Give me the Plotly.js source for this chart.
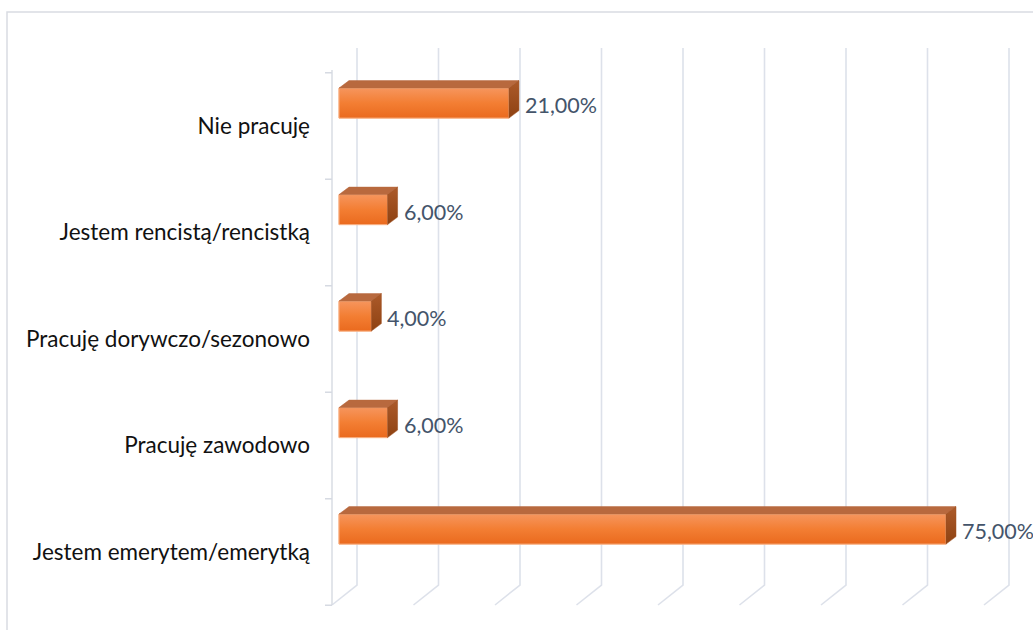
<!DOCTYPE html>
<html>
<head>
<meta charset="utf-8">
<script src="https://cdn.plot.ly/plotly-3.0.1.min.js"></script>
<style>
  html, body { margin: 0; padding: 0; background: #ffffff; }
  #chart { width: 1033px; height: 630px; }
</style>
</head>
<body>
<div id="chart"></div>
<script>
// ---- data (bottom to top) ----
const categories = [
  'Jestem emerytem/emerytką',
  'Pracuję zawodowo',
  'Pracuję dorywczo/sezonowo',
  'Jestem rencistą/rencistką',
  'Nie pracuję'
];
const values = [75, 6, 4, 6, 21];
const valueLabels = ['75,00%', '6,00%', '4,00%', '6,00%', '21,00%'];
const gridTicks = [0, 10, 20, 30, 40, 50, 60, 70, 80];

// ---- geometry of the plot area ----
const W = 1033, H = 630;
const mL = 320, mR = 0, mT = 40, mB = 15;
const plotW = W - mL - mR, plotH = H - mT - mB;
const pxPerX = 8.0933;          // pixels per percent
const pxPerY = 106.5;           // pixels per category step
const zeroPx = 339;             // px position of 0 % (front face)
const cat0Px = 552;             // px position of the first category label
const xr0 = (mL - zeroPx) / pxPerX;
const xRange = [xr0, xr0 + plotW / pxPerX];
const yTop = (cat0Px - mT) / pxPerY;
const yRange = [yTop - plotH / pxPerY, yTop];
const ux = p => p / pxPerX;     // px -> x units
const uy = p => p / pxPerY;     // px -> y units
const yAtPx = p => (cat0Px - p) / pxPerY;

// 3D look
const depthX = ux(10), depthY = uy(7.5);
const barW = uy(30);
const barShift = 0.215;
const yPos = categories.map((c, i) => i + barShift);

const traces = [];
// front faces (bars)
traces.push({
  type: 'bar', orientation: 'h',
  x: values, y: yPos, width: barW,
  marker: { color: '#F27C31', line: { color: '#F8B084', width: 1 } },
  hoverinfo: 'skip', showlegend: false
});
// gradient overlay on the front faces
values.forEach((v, i) => {
  const y0 = yPos[i] - barW / 2, y1 = yPos[i] + barW / 2;
  traces.push({
    type: 'scatter', mode: 'lines',
    x: [0, v, v, 0, 0], y: [y0, y0, y1, y1, y0],
    fill: 'toself',
    fillgradient: { type: 'vertical', colorscale: [[0, '#EA6A1E'], [0.5, '#F37E33'], [1, '#F6955D']] },
    line: { color: '#F8B084', width: 1 },
    hoverinfo: 'skip', showlegend: false
  });
});
// top faces
values.forEach((v, i) => {
  const yt = yPos[i] + barW / 2;
  traces.push({
    type: 'scatter', mode: 'lines',
    x: [0, v, v + depthX, depthX, 0],
    y: [yt, yt, yt + depthY, yt + depthY, yt],
    fill: 'toself', fillcolor: '#B8693E',
    line: { color: '#B8693E', width: 0.5 },
    hoverinfo: 'skip', showlegend: false
  });
});
// side faces
values.forEach((v, i) => {
  const yt = yPos[i] + barW / 2, yb = yPos[i] - barW / 2;
  traces.push({
    type: 'scatter', mode: 'lines',
    x: [v, v + depthX, v + depthX, v, v],
    y: [yt, yt + depthY, yb + depthY, yb, yt],
    fill: 'toself',
    fillgradient: { type: 'vertical', colorscale: [[0, '#8E4212'], [1, '#AC5A2A']] },
    line: { color: '#9C4C1C', width: 0.5 },
    hoverinfo: 'skip', showlegend: false
  });
});

// gridlines (back wall + floor slant)
const shapes = [];
const backOff = ux(357 - zeroPx), backScale = 8.15 / pxPerX;
const gTop = yAtPx(48), gBot = yAtPx(585), gFront = yAtPx(605);
gridTicks.forEach(t => {
  const xb = backOff + t * backScale;
  const xf = xb - ux(25);
  shapes.push({
    type: 'path', xref: 'x', yref: 'y', layer: 'below',
    path: `M ${xb},${gTop} L ${xb},${gBot} L ${xf},${gFront}`,
    line: { color: '#DDE1EA', width: 1.6 }
  });
});
// category axis line with ticks
const axX = backOff - ux(25);
let axPath = `M ${axX},${yAtPx(70)} L ${axX},${gFront}`;
for (let k = -1; k < categories.length; k++) {
  const yy = k + 0.5;
  axPath += ` M ${axX - ux(7)},${yy} L ${axX},${yy}`;
}
shapes.push({
  type: 'path', xref: 'x', yref: 'y', layer: 'below',
  path: axPath, line: { color: '#D6DAE2', width: 1.4 }
});
// chart border
shapes.push({
  type: 'rect', xref: 'paper', yref: 'paper',
  x0: (7 - mL) / plotW, x1: 1.1,
  y0: -0.2, y1: (H - mB - 12) / plotH,
  line: { color: '#D9DCE2', width: 1.5 }
});

// data labels
const annotations = values.map((v, i) => ({
  x: v + depthX, y: yPos[i], xref: 'x', yref: 'y',
  text: valueLabels[i], showarrow: false,
  xanchor: 'left', yanchor: 'middle', xshift: 4, yshift: -2,
  font: { family: 'Lato, sans-serif', size: 21.5, color: '#44546A' }
}));

const layout = {
  width: W, height: H,
  margin: { l: mL, r: mR, t: mT, b: mB },
  paper_bgcolor: '#ffffff', plot_bgcolor: '#ffffff',
  showlegend: false,
  barmode: 'overlay',
  xaxis: { range: xRange, showgrid: false, zeroline: false, showticklabels: false, showline: false, fixedrange: true },
  yaxis: {
    range: yRange, tickmode: 'array', tickvals: categories.map((c, i) => i), ticktext: categories,
    showgrid: false, zeroline: false, showline: false, ticks: '', ticklabelstandoff: 9,
    tickfont: { family: 'Lato, sans-serif', size: 22.5, color: '#111111' }, fixedrange: true
  },
  shapes: shapes,
  annotations: annotations
};

Plotly.newPlot('chart', traces, layout, { displayModeBar: false, staticPlot: true });
</script>
</body>
</html>
